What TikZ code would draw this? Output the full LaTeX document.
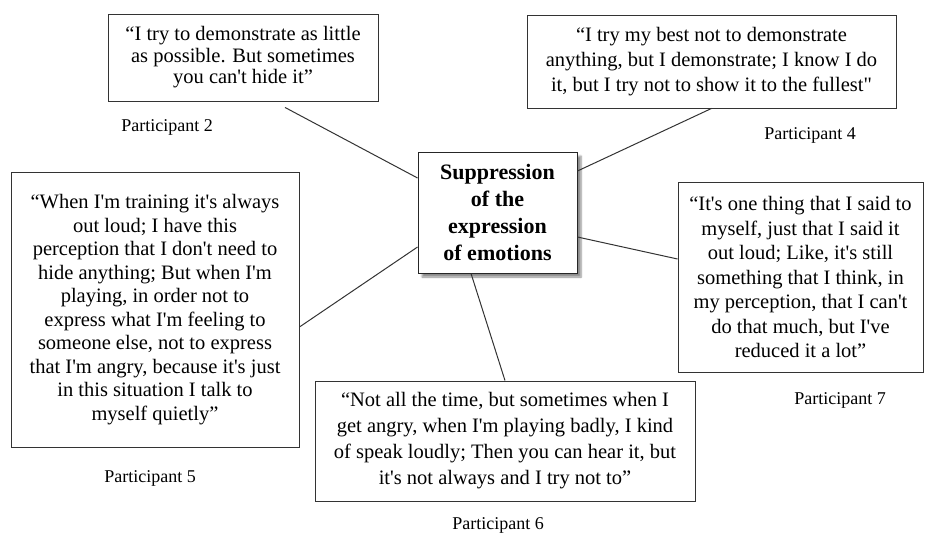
\documentclass[tikz,border=0pt]{standalone}
\usepackage{fontspec}
\setmainfont{Liberation Serif}[Ligatures=TeXOff]
\usetikzlibrary{shadows.blur}

\tikzset{
  quotebox/.style={draw=black!80, line width=0.9pt, fill=white, align=center,
    inner sep=0pt, font=\fontsize{20.5}{#1}\selectfont},
  hub/.style={draw=black!85, line width=0.9pt, fill=white, align=center,
    inner sep=0pt, font=\fontsize{22}{27}\selectfont\bfseries,
    blur shadow={shadow xshift=4pt, shadow yshift=-4pt, shadow blur steps=6, shadow opacity=45}},
  tag/.style={font=\fontsize{18}{21}\selectfont},
  link/.style={draw=black!80, line width=1pt}
}

\begin{document}
\begin{tikzpicture}[x=1pt, y=-1pt]
\useasboundingbox (0,0) rectangle (925,538);

% central theme
\node[hub, minimum width=159pt, minimum height=121pt] (c) at (497.5,212.5)
  {Suppression\\of the\\expression\\of emotions};

% participant quotes
\node[quotebox=21.5, minimum width=270pt, minimum height=87pt] (p2) at (243,57.5)
  {“I try to demonstrate as little\\as possible. But sometimes\\you can't hide it”};
\node[quotebox=25, minimum width=369pt, minimum height=93pt] (p4) at (711.5,61.5)
  {“I try my best not to demonstrate\\anything, but I demonstrate; I know I do\\it, but I try not to show it to the fullest"};
\node[quotebox=23.5, minimum width=288pt, minimum height=275pt] (p5) at (155,309.5)
  {“When I'm training it's always\\out loud; I have this\\perception that I don't need to\\hide anything; But when I'm\\playing, in order not to\\express what I'm feeling to\\someone else, not to express\\that I'm angry, because it's just\\in this situation I talk to\\myself quietly”};
\node[quotebox=24.5, minimum width=245pt, minimum height=190pt] (p7) at (800.5,277)
  {“It's one thing that I said to\\myself, just that I said it\\out loud; Like, it's still\\something that I think, in\\my perception, that I can't\\do that much, but I've\\reduced it a lot”};
\node[quotebox=26, minimum width=380pt, minimum height=120pt] (p6) at (505,441)
  {“Not all the time, but sometimes when I\\get angry, when I'm playing badly, I kind\\of speak loudly; Then you can hear it, but\\it's not always and I try not to”};

% participant labels
\node[tag] (l2) at (167,127) {Participant 2};
\node[tag] (l4) at (810,135) {Participant 4};
\node[tag] (l5) at (150,478) {Participant 5};
\node[tag] (l7) at (840,400) {Participant 7};
\node[tag] (l6) at (498,525) {Participant 6};

% connectors from the theme to each quote
\draw[link] ([xshift=42pt,yshift=-6pt]p2.south) -- ([yshift=34.5pt]c.west);
\draw[link] (p4.south) -- ([yshift=41.5pt]c.east);
\draw[link] ([yshift=-24.5pt]c.east) -- ([yshift=18pt]p7.west);
\draw[link] ([yshift=-34.5pt]c.west) -- ([yshift=-17.5pt]p5.east);
\draw[link] ([xshift=-26.5pt]c.south) -- (p6.north);
\end{tikzpicture}
\end{document}
